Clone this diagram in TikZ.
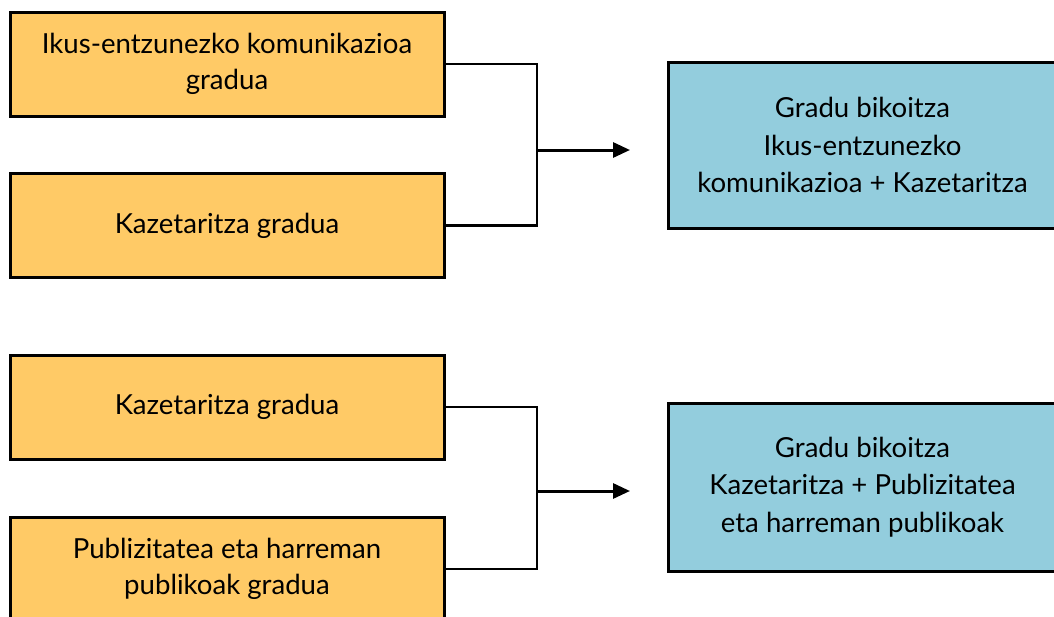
\documentclass[tikz,border=0pt]{standalone}
\usepackage{fontspec}
\setmainfont{Lato}
\usetikzlibrary{arrows.meta}
\definecolor{orangebox}{HTML}{FFCA66}
\definecolor{bluebox}{HTML}{93CDDD}
\begin{document}
\begin{tikzpicture}[x=1pt,y=-1pt,
  srcbox/.style={draw=black, line width=3pt, fill=orangebox, minimum width=434pt, minimum height=104pt, align=center, inner sep=0pt, font=\fontsize{27.6}{36}\selectfont},
  dstbox/.style={draw=black, line width=3pt, fill=bluebox, minimum width=389pt, align=center, inner sep=0pt, font=\fontsize{27.6}{37.5}\selectfont},
  link/.style={draw=black, line width=2.8pt},
  arr/.style={draw=black, line width=3pt, -{Triangle[length=17pt,width=15pt]}}]
\clip (0,0) rectangle (1054,616);
\fill[white] (0,0) rectangle (1054,616);
\node[srcbox] (a1) at (227,64) {Ikus-entzunezko komunikazioa\\gradua};
\node[srcbox] (a2) at (227,225.5) {Kazetaritza gradua};
\node[dstbox, minimum height=166pt] (b1) at (862.5,145) {Gradu bikoitza\\Ikus-entzunezko\\komunikazioa + Kazetaritza};
\coordinate (j1) at (537,150);
\coordinate (t1) at (630,150);
\draw[link] (a1.east) -| (j1);
\draw[link] (a2.east) -| (j1);
\draw[arr] (j1) -- (t1);

\node[srcbox] (c1) at (227,407) {Kazetaritza gradua};
\node[srcbox] (c2) at (227,569) {Publizitatea eta harreman\\publikoak gradua};
\node[dstbox, minimum height=168pt] (b2) at (862.5,487) {Gradu bikoitza\\Kazetaritza + Publizitatea\\eta harreman publikoak};
\coordinate (j2) at (537,491);
\coordinate (t2) at (630,491);
\draw[link] (c1.east) -| (j2);
\draw[link] (c2.east) -| (j2);
\draw[arr] (j2) -- (t2);
\end{tikzpicture}
\end{document}
